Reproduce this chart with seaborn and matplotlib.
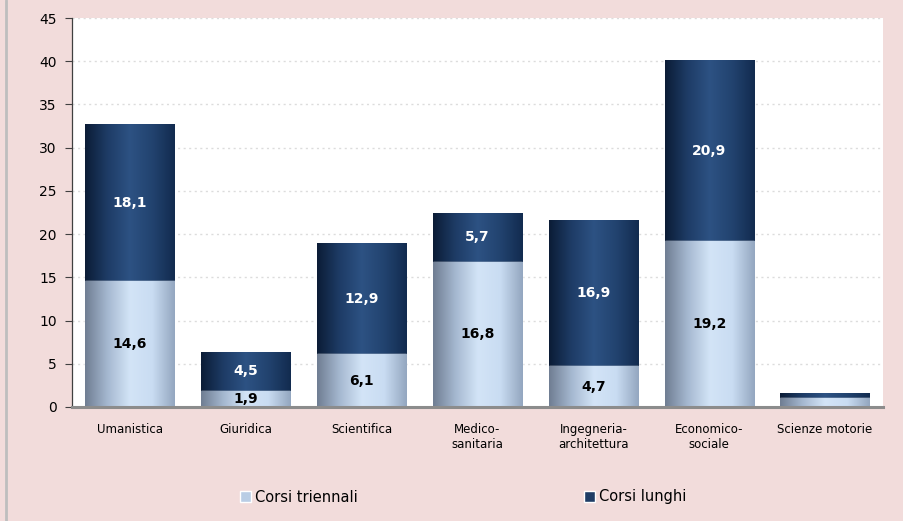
import numpy as np
import pandas as pd
import matplotlib
matplotlib.use("Agg")
import matplotlib.pyplot as plt
import seaborn as sns
from matplotlib.patches import Patch
from matplotlib.colors import LinearSegmentedColormap
from matplotlib.lines import Line2D

# data
categories = ["Umanistica", "Giuridica", "Scientifica", "Medico-\nsanitaria",
              "Ingegneria-\narchitettura", "Economico-\nsociale", "Scienze motorie"]
triennali = [14.6, 1.9, 6.1, 16.8, 4.7, 19.2, 1.0]
lunghi = [18.1, 4.5, 12.9, 5.7, 16.9, 20.9, 0.6]
show_labels = [True, True, True, True, True, True, False]
y_ticks = [0, 5, 10, 15, 20, 25, 30, 35, 40, 45]

df = pd.DataFrame({"Area": categories, "triennali": triennali, "lunghi": lunghi})
df["totale"] = df.triennali + df.lunghi

bg = "#F2DCDB"
light = "#B9CDE5"
dark = "#1F3D66"

sns.set_style("white")
plt.rcParams["font.family"] = ["DejaVu Sans"]
plt.rcParams["text.color"] = "black"
plt.rcParams["xtick.color"] = "black"
plt.rcParams["ytick.color"] = "black"

fig = plt.figure(figsize=(9.04, 5.21), dpi=100, facecolor=bg)
ax = fig.add_axes([72 / 904, 1 - 407 / 521, (883 - 72) / 904, (407 - 18) / 521])
ax.set_facecolor("white")

# stacked bars: totals (dark) behind, triennali (light) in front
sns.barplot(data=df, x="Area", y="totale", color=dark, width=0.77, saturation=1, ax=ax)
n_dark = len(ax.patches)
sns.barplot(data=df, x="Area", y="triennali", color=light, width=0.77, saturation=1, ax=ax)

# cylindrical shading on each bar
dark_cmap = LinearSegmentedColormap.from_list(
    "d", ["#0B1C36", "#1E3C66", "#2D5283", "#22436F", "#122B4F"])
light_cmap = LinearSegmentedColormap.from_list(
    "l", ["#6F7D92", "#A5B8D0", "#D3E4F7", "#C9DCF2", "#93A6BF"])
grad = np.linspace(0, 1, 256).reshape(1, -1)
for i, p in enumerate(ax.patches):
    x0, y0 = p.get_x(), p.get_y()
    w, h = p.get_width(), p.get_height()
    if h <= 0:
        continue
    cmap = dark_cmap if i < n_dark else light_cmap
    im = ax.imshow(grad, cmap=cmap, aspect="auto", extent=[x0, x0 + w, y0, y0 + h],
                   zorder=p.get_zorder() + 0.01 + (0.5 if i >= n_dark else 0),
                   interpolation="bicubic")
    im.set_clip_path(p)
    p.set_zorder(p.get_zorder() + (0.5 if i >= n_dark else 0))

# value labels
for i, row in df.iterrows():
    if not show_labels[i]:
        continue
    ax.text(i, row.triennali / 2, f"{row.triennali:.1f}".replace(".", ","),
            ha="center", va="center", fontsize=10, fontweight="bold", color="black", zorder=10)
    ax.text(i, row.triennali + row.lunghi / 2, f"{row.lunghi:.1f}".replace(".", ","),
            ha="center", va="center", fontsize=10, fontweight="bold", color="white", zorder=10)

ax.set_xlim(-0.5, len(categories) - 0.5)
ax.set_ylim(0, 45)
ax.set_yticks(y_ticks)
ax.yaxis.grid(True, color="#DCDCDC", linestyle=(0, (1.5, 2.5)), linewidth=1)
ax.set_axisbelow(True)
ax.set_xlabel("")
ax.set_ylabel("")
ax.tick_params(axis="y", left=True, length=5, width=0.8, color="#404040", labelsize=10, pad=6)
ax.tick_params(axis="x", bottom=False, labelsize=8.5, pad=8)
for s in ["top", "right"]:
    ax.spines[s].set_visible(False)
ax.spines["left"].set_color("#404040")
ax.spines["left"].set_linewidth(0.9)
ax.spines["bottom"].set_color("#8C8C8C")
ax.spines["bottom"].set_linewidth(2.2)

handles = [Patch(facecolor=light, edgecolor="white", label="Corsi triennali"),
           Patch(facecolor=dark, edgecolor="white", label="Corsi lunghi")]
fig.legend(handles=handles, loc="center", bbox_to_anchor=(463 / 904, 1 - 497 / 521), ncol=2,
           frameon=False, fontsize=10.5, handlelength=0.75, handleheight=0.75,
           handletextpad=0.3, columnspacing=15.5, labelcolor="black")

fig.add_artist(Line2D([6.5 / 904, 6.5 / 904], [0, 1], color="#BEBEBE", linewidth=2,
                      transform=fig.transFigure))

fig.savefig("out.png", dpi=100, facecolor=bg)
